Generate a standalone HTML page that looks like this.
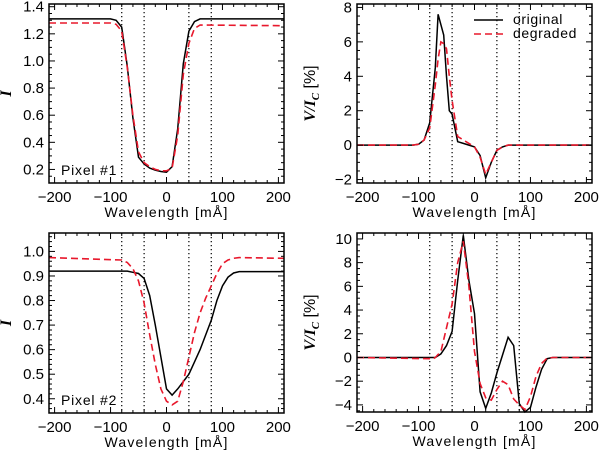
<!DOCTYPE html>
<html><head><meta charset="utf-8"><style>
body{margin:0;background:#fff;width:600px;height:455px;overflow:hidden}
svg{font-family:"Liberation Sans",sans-serif}
</style></head><body>
<svg id="c" width="600" height="455" viewBox="0 0 600 455"></svg>
<script>
const p1x=[-210,-100,-90,-80,-70,-60,-50,-40,-30,-20,-10,0,10,20,30,40,50,60,210];
const p1orig=[1.31,1.31,1.30,1.25,0.96,0.58,0.29,0.24,0.21,0.195,0.185,0.18,0.22,0.50,0.98,1.22,1.29,1.31,1.31];
const p1deg=[1.28,1.28,1.27,1.22,0.95,0.60,0.33,0.25,0.22,0.20,0.19,0.19,0.21,0.45,0.90,1.13,1.24,1.265,1.26];
const p2x=[-210,-110,-100,-90,-80,-70,-65,-60,-55,-50,-45,-40,-30,-20,-10,0,10,20,30,40,50,60,210];
const p2orig=[0,0,0.05,0.3,1.3,4.5,7.6,7.0,6.4,4.0,2.0,1.8,0.2,0.1,0,-0.1,-0.6,-1.9,-1.0,-0.3,-0.1,0,0];
const p2deg=[0,0,0.05,0.3,1.0,3.5,5.0,6.0,5.9,5.6,4.0,2.6,0.5,0.3,0.1,-0.1,-0.7,-1.7,-1.0,-0.3,-0.1,0,0];
const p3x=[-210,-80,-70,-60,-50,-40,-30,-20,-10,0,10,20,30,40,50,60,70,80,90,100,110,120,130,210];
const p3orig=[0.92,0.92,0.92,0.915,0.91,0.89,0.82,0.70,0.57,0.44,0.415,0.44,0.47,0.50,0.55,0.60,0.66,0.72,0.80,0.86,0.895,0.912,0.918,0.918];
const p3deg=[0.975,0.965,0.955,0.93,0.88,0.79,0.66,0.54,0.44,0.39,0.375,0.39,0.47,0.57,0.67,0.75,0.81,0.86,0.91,0.95,0.965,0.972,0.975,0.972];
const p4x=[-210,-80,-75,-70,-60,-50,-40,-30,-20,-10,0,10,20,30,40,50,60,70,80,90,100,110,120,130,140,210];
const p4orig=[0,0,0,0,0.3,1.0,2.2,6.5,10.3,6.5,3.7,-2.9,-4.3,-3.0,-1.3,0.2,1.7,1.0,-3.9,-4.6,-4.2,-2.5,-1.0,-0.1,0,0];
const p4deg=[0,-0.1,-0.15,0,0.5,2.5,4.5,8.0,9.8,6.0,0.5,-2.2,-3.4,-3.6,-2.7,-2.0,-2.3,-3.5,-4.0,-4.4,-3.3,-1.6,-0.5,-0.05,0,0];
const xTicks=[-200,-100,0,100,200];
const p1yTicks=[0.2,0.4,0.6,0.8,1.0,1.2,1.4];
const p2yTicks=[-2,0,2,4,6,8];
const p3yTicks=[0.4,0.5,0.6,0.7,0.8,0.9,1.0];
const p4yTicks=[-4,-2,0,2,4,6,8,10];
const dotX=[-80,-40,40,80];

const svg=document.getElementById('c');
const NS='http://www.w3.org/2000/svg';
function mk(t,a,parent){const e=document.createElementNS(NS,t);for(const k in a)e.setAttribute(k,a[k]);(parent||svg).appendChild(e);return e;}

function panel(name,box,yr,yTicks,yMinor,yFmt,xs,orig,deg,ylab,pix,legend){
  const [L,T,R,B]=box;
  const g=mk('g',{});
  
  
  const X=v=>L+(v+210)/420*(R-L);
  const Y=v=>B-(v-yr[0])/(yr[1]-yr[0])*(B-T);
  dotX.forEach(d=>{const l=mk('line',{x1:X(d),x2:X(d),y1:T,y2:B,stroke:'#000','stroke-width':1.2,'stroke-dasharray':'1.2,2.8'},g);
    
    });
  const pts=a=>xs.map((x,i)=>X(x).toFixed(1)+','+Y(a[i]).toFixed(1)).join(' ');
  const s1=mk('polyline',{points:pts(orig),fill:'none',stroke:'#000','stroke-width':1.5},g);
  
  
  const s2=mk('polyline',{points:pts(deg),fill:'none',stroke:'#e8182c','stroke-width':1.6,'stroke-dasharray':'7,4'},g);
  
  
  const fr=mk('rect',{x:L,y:T,width:R-L,height:B-T,fill:'none',stroke:'#000','stroke-width':1.5},g);
  
  
  for(let v=-200;v<=200;v+=20){const maj=v%100===0;const len=maj?6:3;
    mk('line',{x1:X(v),x2:X(v),y1:B,y2:B-len,stroke:'#000','stroke-width':1},g);
    mk('line',{x1:X(v),x2:X(v),y1:T,y2:T+len,stroke:'#000','stroke-width':1},g);}
  xTicks.forEach(v=>{const t=mk('text',{x:X(v),y:B+19,'text-anchor':'middle','font-size':15},g);t.textContent=(v<0?'\u2212':'')+Math.abs(v);
    
    });
  const xl=mk('text',{x:(L+R)/2,y:B+34,'text-anchor':'middle','font-size':14,'letter-spacing':'1.2'},g);xl.textContent='Wavelength [mÅ]';
  
  
  const n=Math.round((yr[1]-yr[0])/yMinor)+2;
  const start=Math.ceil(yr[0]/yMinor-1e-6)*yMinor;
  for(let k=0;k<n;k++){const v=start+k*yMinor;if(v>yr[1]+1e-9)break;
    const maj=yTicks.some(t=>Math.abs(t-v)<1e-6);const len=maj?6:3;
    mk('line',{x1:L,x2:L+len,y1:Y(v),y2:Y(v),stroke:'#000','stroke-width':1},g);
    mk('line',{x1:R,x2:R-len,y1:Y(v),y2:Y(v),stroke:'#000','stroke-width':1},g);}
  yTicks.forEach(v=>{const t=mk('text',{x:L-5,y:Y(v)+5,'text-anchor':'end','font-size':15},g);t.textContent=(v<0?'\u2212':'')+yFmt(Math.abs(v));
    
    });
  const yx=L-(ylab==='I'?38:42), yy=(T+B)/2;
  const yl=mk('text',{x:yx,y:yy,'text-anchor':'middle','font-size':16,'font-weight':'bold','font-style':'italic',transform:`rotate(-90 ${yx} ${yy})`,'font-family':'"Liberation Serif",serif'},g);
  if(ylab==='I'){yl.textContent='I';}else{yl.innerHTML='V/I<tspan font-size="11" dy="4">C</tspan><tspan dy="-4" font-style="normal" font-weight="normal" font-family="Liberation Sans, sans-serif"> [%]</tspan>';}
  
  
  if(pix){const t=mk('text',{x:L+12,y:B-8,'font-size':14,'letter-spacing':'0.8'},g);t.textContent=pix;
    
    }
  if(legend){
    const lg=mk('g',{},g);
    
    
    mk('line',{x1:474,x2:503,y1:20,y2:20,stroke:'#000','stroke-width':1.5},lg);
    mk('line',{x1:474,x2:503,y1:34,y2:34,stroke:'#e8182c','stroke-width':1.6,'stroke-dasharray':'7,4'},lg);
    const a=mk('text',{x:513,y:24,'font-size':14,'letter-spacing':'0.6'},lg);a.textContent='original';
    
    
    const b=mk('text',{x:513,y:38,'font-size':14,'letter-spacing':'0.6'},lg);b.textContent='degraded';
    
    
  }
}
const f1=v=>v.toFixed(1), f0=v=>String(v);
panel('panel-pixel1-intensity',[49,4,284,183],[0.1,1.42],p1yTicks,0.05,f1,p1x,p1orig,p1deg,'I','Pixel #1',false);
panel('panel-pixel1-stokes-v',[357,4,592,183],[-2.2,8.2],p2yTicks,0.5,f0,p2x,p2orig,p2deg,'V',null,true);
panel('panel-pixel2-intensity',[49,233,284,413],[0.342,1.075],p3yTicks,0.02,f1,p3x,p3orig,p3deg,'I','Pixel #2',false);
panel('panel-pixel2-stokes-v',[357,233,592,412],[-4.6,10.5],p4yTicks,0.5,f0,p4x,p4orig,p4deg,'V',null,false);
</script>
</body></html>
